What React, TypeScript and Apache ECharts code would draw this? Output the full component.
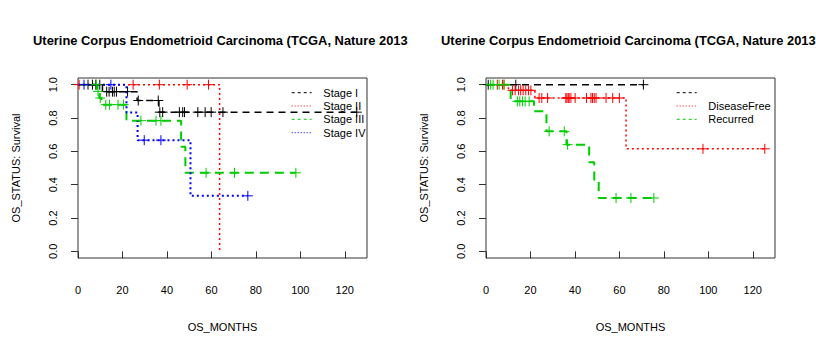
import React, { useEffect, useRef } from "react";
import * as echarts from "echarts";

const TITLE = "Uterine Corpus Endometrioid Carcinoma (TCGA, Nature 2013)";
const X_NAME = "OS_MONTHS";
const Y_NAME = "OS_STATUS: Survival";
const X_TICKS = [0, 20, 40, 60, 80, 100, 120];
const Y_TICKS = [0, 0.2, 0.4, 0.6, 0.8, 1.0];

// ---- Left panel: tumour stage ----
const stageNames = ["Stage I", "Stage II", "Stage III", "Stage IV"];
const stageITimes = [0, 11.0, 26.6, 36.4, 125.4];
const stageISurv = [1, 0.958, 0.905, 0.835, 0.835];
const stageICensor = [4.5, 6.5, 8.0, 9.8, 12.9, 14.0, 15.5, 16.3, 17.3, 22.3, 27.1, 36.1, 36.8, 38.1, 45.6, 47.1, 47.9, 53.9, 57.2, 59.9, 65.2, 125.4];

const stageIITimes = [0, 63.7];
const stageIISurv = [1, 0];
const stageIICensor = [0.5, 24.8, 36.6, 49.1, 58.7];

const stageIIITimes = [0, 8.6, 9.6, 10.6, 21.8, 46.4, 48.3, 98.0];
const stageIIISurv = [1, 0.96, 0.92, 0.88, 0.784, 0.627, 0.471, 0.471];
const stageIIICensor = [8.2, 9.0, 10.0, 12.5, 14.2, 18.0, 20.5, 28.3, 35.1, 37.3, 57.6, 70.4, 98.0];

const stageIVTimes = [0, 21.8, 26.8, 50.6, 76.4];
const stageIVSurv = [1, 0.833, 0.667, 0.333, 0.333];
const stageIVCensor = [2.7, 14.8, 29.8, 37.3, 76.4];

// ---- Right panel: disease-free status ----
const dfsNames = ["", "DiseaseFree", "Recurred"];
const blankTimes = [0, 70.8];
const blankSurv = [1, 1];
const blankCensor = [1.0, 13.4, 70.8];

const dfTimes = [0, 10.1, 22.0, 63.0, 125.4];
const dfSurv = [1, 0.966, 0.92, 0.615, 0.615];
const dfCensor = [5.1, 7.4, 8.1, 11.9, 13.1, 14.6, 15.6, 16.7, 17.9, 19.1, 20.2, 23.9, 25.1, 27.7, 35.9, 36.4, 37.0, 37.4, 38.2, 40.1, 45.2, 47.2, 47.9, 48.7, 49.5, 54.0, 57.0, 60.0, 97.6, 125.4];

const recTimes = [0, 11.1, 21.6, 27.2, 36.2, 46.4, 48.7, 50.7, 75.5];
const recSurv = [1, 0.9, 0.84, 0.72, 0.64, 0.535, 0.42, 0.32, 0.32];
const recCensor = [2.1, 3.2, 5.9, 8.1, 14.1, 15.2, 16.4, 17.6, 19.4, 28.4, 35.2, 36.7, 58.5, 65.2, 75.5];

const FONT = "Liberation Sans, Arial, Helvetica, sans-serif";

type Curve = {
  name: string;
  times: number[];
  surv: number[];
  censor: number[];
  color: string;
  width: number;
  dash: number[];
  legendDash: number[];
};

function survAt(times: number[], surv: number[], t: number) {
  let s = surv[0];
  for (let i = 0; i < times.length; i++) {
    if (times[i] <= t) s = surv[i];
  }
  return s;
}

const BLACK = "#000000";
const RED = "#FF0000";
const GREEN = "#00CD00";
const BLUE = "#0000FF";

const leftCurves: Curve[] = [
  { name: stageNames[0], times: stageITimes, surv: stageISurv, censor: stageICensor, color: BLACK, width: 1.5, dash: [7, 5], legendDash: [3, 3] },
  { name: stageNames[1], times: stageIITimes, surv: stageIISurv, censor: stageIICensor, color: RED, width: 1.5, dash: [2, 3], legendDash: [1, 2] },
  { name: stageNames[2], times: stageIIITimes, surv: stageIIISurv, censor: stageIIICensor, color: GREEN, width: 2, dash: [9, 6], legendDash: [3, 3] },
  { name: stageNames[3], times: stageIVTimes, surv: stageIVSurv, censor: stageIVCensor, color: BLUE, width: 2, dash: [2, 3], legendDash: [1, 2] },
];

const rightCurves: Curve[] = [
  { name: dfsNames[0], times: blankTimes, surv: blankSurv, censor: blankCensor, color: BLACK, width: 1.5, dash: [7, 5], legendDash: [3, 3] },
  { name: dfsNames[1], times: dfTimes, surv: dfSurv, censor: dfCensor, color: RED, width: 1.5, dash: [2, 3], legendDash: [1, 2] },
  { name: dfsNames[2], times: recTimes, surv: recSurv, censor: recCensor, color: GREEN, width: 2, dash: [9, 6], legendDash: [3, 3] },
];

function buildOption(curves: Curve[], legendLineX: number, legendTextX: number) {
  const series: any[] = [];
  curves.forEach((c, idx) => {
    series.push({
      type: "line",
      name: c.name || "group" + idx,
      step: "end",
      symbol: "none",
      data: c.times.map((t, i) => [t, c.surv[i]]),
      lineStyle: { color: c.color, width: c.width, type: c.dash },
      z: 2,
    });
    series.push({
      type: "custom",
      name: (c.name || "group" + idx) + "-censor",
      encode: { x: 0, y: 1 },
      data: c.censor.map((t) => [t, survAt(c.times, c.surv, t)]),
      z: 3,
      renderItem: (params: any, api: any) => {
        const p = api.coord([api.value(0), api.value(1)]);
        const h = 5;
        return {
          type: "group",
          children: [
            { type: "line", shape: { x1: p[0] - h, y1: p[1], x2: p[0] + h, y2: p[1] }, style: { stroke: c.color, lineWidth: 1 } },
            { type: "line", shape: { x1: p[0], y1: p[1] - h, x2: p[0], y2: p[1] + h }, style: { stroke: c.color, lineWidth: 1 } },
          ],
        };
      },
    });
  });

  const rowY = [92.7, 106, 119.3, 132.7];
  const graphics: any[] = [
    {
      type: "text",
      x: 222.5,
      y: 40,
      style: {
        text: TITLE,
        fontFamily: FONT,
        fontSize: 12.9,
        fontWeight: "bold",
        fill: "#000",
        align: "center",
        verticalAlign: "middle",
      },
    },
  ];
  curves.forEach((c, i) => {
    graphics.push({
      type: "line",
      shape: { x1: legendLineX, y1: rowY[i], x2: legendLineX + 20, y2: rowY[i] },
      style: { stroke: c.color, lineWidth: 1, lineDash: c.legendDash },
    });
    graphics.push({
      type: "text",
      x: legendTextX,
      y: rowY[i],
      style: {
        text: c.name,
        fontFamily: FONT,
        fontSize: 11,
        fill: "#000",
        align: "left",
        verticalAlign: "middle",
      },
    });
  });

  return {
    animation: false,
    backgroundColor: "#ffffff",
    grid: {
      left: 78,
      top: 78,
      width: 289,
      height: 180,
      show: true,
      borderColor: "#333",
      borderWidth: 1,
      backgroundColor: "transparent",
    },
    xAxis: {
      type: "value",
      min: 0,
      max: 130,
      axisLine: { show: false },
      splitLine: { show: false },
      axisTick: { show: true, customValues: X_TICKS, length: 7, lineStyle: { color: "#333" } },
      axisLabel: { customValues: X_TICKS, margin: 26, fontSize: 11, color: "#000", fontFamily: FONT },
      name: X_NAME,
      nameLocation: "middle",
      nameGap: 63,
      nameTextStyle: { fontSize: 11, color: "#000", fontFamily: FONT },
    },
    yAxis: {
      type: "value",
      min: -0.04,
      max: 1.04,
      axisLine: { show: false },
      splitLine: { show: false },
      axisTick: { show: true, customValues: Y_TICKS, length: 7, lineStyle: { color: "#333" } },
      axisLabel: {
        customValues: Y_TICKS,
        rotate: 90,
        margin: 20,
        fontSize: 11,
        color: "#000",
        fontFamily: FONT,
        formatter: (v: number) => v.toFixed(1),
      },
      name: Y_NAME,
      nameLocation: "middle",
      nameRotate: 90,
      nameGap: 57,
      nameTextStyle: { fontSize: 11, color: "#000", fontFamily: FONT },
    },
    graphic: graphics,
    series,
  };
}

function Panel({ curves, legendLineX, legendTextX }: { curves: Curve[]; legendLineX: number; legendTextX: number }) {
  const ref = useRef<HTMLDivElement>(null);
  useEffect(() => {
    if (!ref.current) return;
    const chart = echarts.init(ref.current, undefined, { renderer: "svg" });
    chart.setOption(buildOption(curves, legendLineX, legendTextX) as any);
    return () => chart.dispose();
  }, []);
  return <div ref={ref} style={{ width: 408, height: 357, overflow: "hidden", flex: "none" }} />;
}

export default function App() {
  return (
    <div
      style={{
        position: "fixed",
        left: 0,
        top: 0,
        width: 816,
        height: 357,
        display: "flex",
        background: "#fff",
      }}
    >
      <Panel curves={leftCurves} legendLineX={291.7} legendTextX={323.3} />
      <Panel curves={rightCurves} legendLineX={268.7} legendTextX={300.3} />
    </div>
  );
}
